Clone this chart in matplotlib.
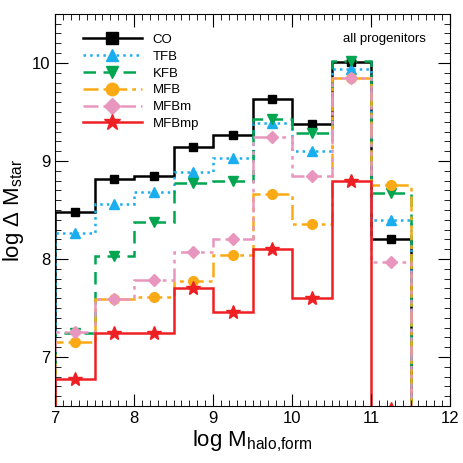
import matplotlib
matplotlib.use("Agg")
import matplotlib.pyplot as plt
import numpy as np
from matplotlib.ticker import MultipleLocator
from matplotlib.lines import Line2D

plt.rcParams['font.family'] = ['Liberation Sans', 'DejaVu Sans']
plt.rcParams['mathtext.fontset'] = 'custom'
plt.rcParams['mathtext.rm'] = 'Liberation Sans'

# bin edges in log M_halo,form
edges = [7.0, 7.5, 8.0, 8.5, 9.0, 9.5, 10.0, 10.5, 11.0, 11.5]
centers = [7.25, 7.75, 8.25, 8.75, 9.25, 9.75, 10.25, 10.75, 11.25]

labels = ["CO", "TFB", "KFB", "MFB", "MFBm", "MFBmp"]
co = [8.48, 8.82, 8.85, 9.14, 9.26, 9.63, 9.38, 10.01, 8.20]
tfb = [8.27, 8.56, 8.68, 8.89, 9.03, 9.39, 9.10, 9.94, 8.40]
kfb = [7.25, 8.03, 8.38, 8.77, 8.80, 9.43, 9.29, 10.02, 8.67]
mfb = [7.15, 7.59, 7.61, 7.78, 8.04, 8.66, 8.36, 9.85, 8.75]
mfbm = [7.26, 7.59, 7.79, 8.07, 8.20, 9.24, 8.85, 9.85, 7.97]
mfbmp = [6.78, 7.25, 7.25, 7.70, 7.46, 8.10, 7.60, 8.80, 6.47]

series = [co, tfb, kfb, mfb, mfbm, mfbmp]
colors = ["black", "#1aaeef", "#00a550", "#fbaa16", "#e896bd", "#ee2024"]
styles = ["-", ":", (0, (5, 3)), (0, (6, 2, 1.5, 2)), (0, (6, 2, 1.5, 2, 1.5, 2)), "-"]
markers = ["s", "^", "v", "o", "D", "*"]
msizes = [6, 7, 7, 7, 6, 10]

fig = plt.figure(figsize=(4.63, 4.63), dpi=100)
ax = fig.add_axes([0.119, 0.123, 0.853, 0.847])

handles = []
for vals, c, ls, m, ms, lab in zip(series, colors, styles, markers, msizes, labels):
    ax.stairs(vals, edges, baseline=0, color=c, linestyle=ls, linewidth=1.8)
    ax.plot(centers, vals, linestyle="none", marker=m, color=c, markersize=ms)
    handles.append(Line2D([], [], color=c, linestyle=ls, linewidth=1.8,
                          marker=m, markersize=ms + 2, label=lab))

ax.set_xlim(7, 12)
ax.set_ylim(6.5, 10.5)
ax.xaxis.set_major_locator(MultipleLocator(1))
ax.xaxis.set_minor_locator(MultipleLocator(0.1))
ax.yaxis.set_major_locator(MultipleLocator(1))
ax.yaxis.set_minor_locator(MultipleLocator(0.1))
ax.tick_params(which="both", direction="in", top=True, right=True, labelsize=12)
ax.tick_params(which="major", length=9)
ax.tick_params(which="minor", length=4)

ax.set_xlabel(r"log M$_{\rm halo{,}form}$", fontsize=16, labelpad=2)
ax.set_ylabel(r"log $\Delta$ M$_{\rm star}$", fontsize=16, labelpad=4)

ax.text(0.94, 0.95, "all progenitors", transform=ax.transAxes, ha="right", va="top", fontsize=9.5)

ax.legend(handles=handles, loc="upper left", bbox_to_anchor=(0.04, 0.98), frameon=False,
          handlelength=4.5, fontsize=9.5, labelspacing=0.35, handletextpad=0.8)

fig.savefig("out.png", dpi=100)
